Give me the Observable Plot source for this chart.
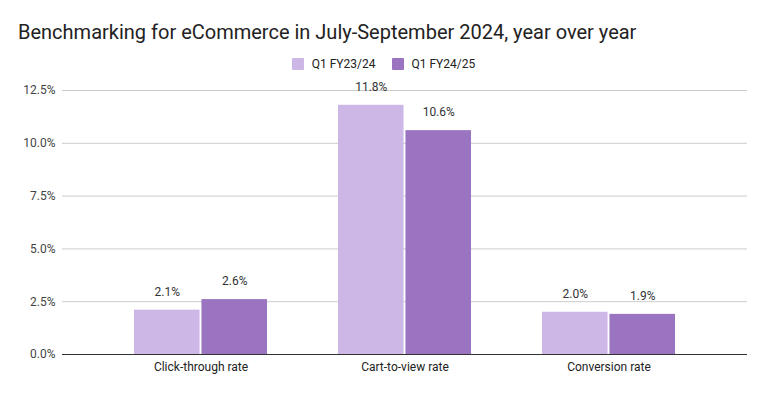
<!DOCTYPE html>
<html>
<head>
<meta charset="utf-8">
<script src="https://cdn.jsdelivr.net/npm/d3@7"></script>
<script src="https://cdn.jsdelivr.net/npm/@observablehq/plot@0.6"></script>
<style>
  body { margin: 0; background: #fff; font-family: Roboto, "Liberation Sans", sans-serif; }
  #wrap { width: 767px; height: 394px; position: relative; overflow: hidden; }
  #title { height: 53px; box-sizing: border-box; padding: 21px 0 0 18px; font-size: 20px; color: #222; line-height: 22px; }
  #legend { height: 21px; display: flex; justify-content: center; align-items: center; font-size: 12px; color: #222; }
  .item { display: flex; align-items: center; margin: 0 8px; }
  .sw { width: 12px; height: 12px; margin-right: 8px; border-radius: 1px; }
  svg { display: block; }
</style>
</head>
<body>
<div id="wrap">
  <div id="title">Benchmarking for eCommerce in July-September 2024, year over year</div>
  <div id="legend"></div>
  <div id="chart"></div>
</div>
<script>
const categories = ["Click-through rate", "Cart-to-view rate", "Conversion rate"];
const series = ["Q1 FY23/24", "Q1 FY24/25"];
const valuesFY2324 = [0.021, 0.118, 0.020];
const valuesFY2425 = [0.026, 0.106, 0.019];
const colors = ["#cdb7e7", "#9b74c1"];
const yTicks = [0, 0.025, 0.05, 0.075, 0.1, 0.125];

const rows1 = categories.map((c, i) => ({category: c, series: series[0], value: valuesFY2324[i]}));
const rows2 = categories.map((c, i) => ({category: c, series: series[1], value: valuesFY2425[i]}));

const legend = document.getElementById("legend");
series.forEach((s, i) => {
  const it = document.createElement("div");
  it.className = "item";
  const sw = document.createElement("div");
  sw.className = "sw";
  sw.style.background = colors[i];
  const t = document.createElement("span");
  t.textContent = s;
  it.appendChild(sw); it.appendChild(t);
  legend.appendChild(it);
});

const pct = d3.format(".1%");

const W = 767, ML = 62, MR = 20, PAD = 0.35, GAP = 2;
const step = (W - ML - MR) / (categories.length - PAD + 2 * PAD);
const bw = step * (1 - PAD);
const half = bw / 2;
const inset = half + GAP / 2;
const off = (half - GAP / 2) / 2 + GAP / 2;

const font = "Roboto, 'Liberation Sans', sans-serif";

const chart = Plot.plot({
  width: W,
  height: 320,
  marginLeft: ML,
  marginRight: MR,
  marginTop: 16,
  marginBottom: 40,
  style: { fontFamily: font, fontSize: "12px", color: "#222", background: "#fff" },
  x: { domain: categories, padding: PAD, label: null },
  y: { domain: [0, 0.125], label: null },
  color: { domain: series, range: colors },
  marks: [
    Plot.ruleY(yTicks.slice(1), { y: d => d, stroke: "#cccccc", strokeWidth: 1 }),
    Plot.barY(rows1, { x: "category", y: "value", fill: "series", insetRight: inset }),
    Plot.barY(rows2, { x: "category", y: "value", fill: "series", insetLeft: inset }),
    Plot.text(rows1, { x: "category", y: "value", text: d => pct(d.value), dx: -off, dy: -18, fill: "#333", fontSize: 12 }),
    Plot.text(rows2, { x: "category", y: "value", text: d => pct(d.value), dx: off, dy: -18, fill: "#333", fontSize: 12 }),
    Plot.ruleY([0], { stroke: "#333", strokeWidth: 1 }),
    Plot.axisY({ ticks: yTicks, tickFormat: pct, tickSize: 0, tickPadding: 7, label: null, fill: "#444" }),
    Plot.axisX({ tickSize: 0, tickPadding: 8, label: null, fill: "#222" })
  ]
});
document.getElementById("chart").appendChild(chart);
</script>
</body>
</html>
